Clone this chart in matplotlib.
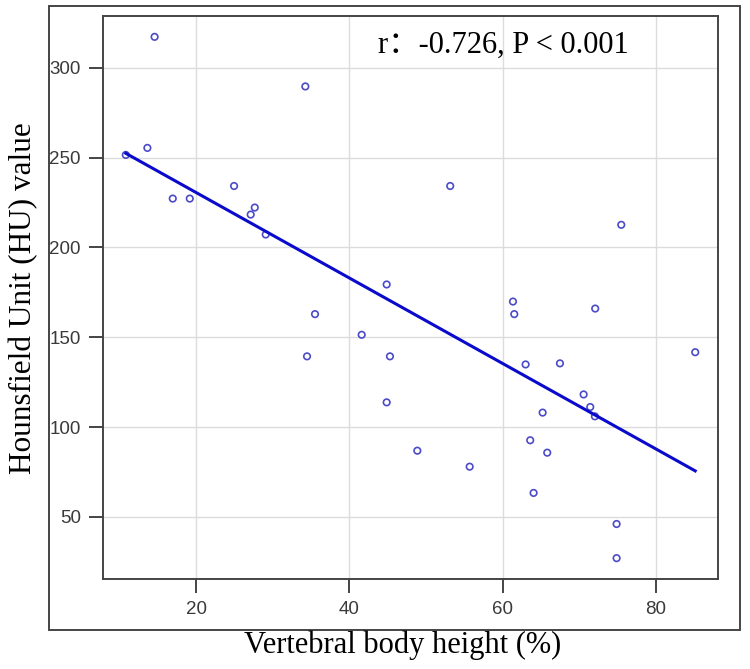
import numpy as np
import matplotlib
matplotlib.use("Agg")
import matplotlib.pyplot as plt
from matplotlib.patches import Rectangle
from matplotlib.transforms import IdentityTransform
from matplotlib import font_manager

# ---- data ----
vbh = [10.83, 13.65, 14.59, 16.96, 19.18, 24.96, 27.13, 27.66, 29.09, 34.26,
       34.48, 35.52, 41.61, 44.87, 45.30, 44.87, 48.87, 53.16, 55.70, 61.35,
       61.52, 63.00, 63.60, 64.04, 65.22, 65.82, 67.48, 70.57, 71.43, 72.04,
       75.48, 72.08, 74.87, 74.87, 85.13]
hu = [251.5, 255.4, 317.2, 227.2, 227.2, 234.2, 218.3, 222.2, 207.2, 289.6,
      139.4, 162.9, 151.4, 179.4, 139.4, 113.8, 86.9, 234.2, 78.0, 169.9,
      162.9, 134.9, 92.7, 63.4, 108.1, 85.8, 135.5, 118.2, 111.2, 106.0,
      212.6, 166.0, 46.1, 27.1, 141.7]
x_ticks = [20, 40, 60, 80]
y_ticks = [50, 100, 150, 200, 250, 300]
annotation = "r\uff1a-0.726, P < 0.001"
x_label = "Vertebral body height (%)"
y_label = "Hounsfield Unit (HU) value"

x = np.array(vbh)
y = np.array(hu)

names = {f.name for f in font_manager.fontManager.ttflist}
tick_family = ["Liberation Sans Narrow"] if "Liberation Sans Narrow" in names else ["Liberation Sans"]
serif = ["Liberation Serif", "Noto Sans CJK SC", "DejaVu Serif"]

W, H = 750, 669
fig = plt.figure(figsize=(W / 100, H / 100), dpi=100)
fig.patch.set_facecolor("white")

ax = fig.add_axes([103 / W, 1 - 579 / H, (718 - 103) / W, (579 - 16) / H])

# R-like limits (4% extension)
xr = x.max() - x.min()
yr = y.max() - y.min()
ax.set_xlim(x.min() - 0.04 * xr, x.max() + 0.04 * xr)
ax.set_ylim(y.min() - 0.04 * yr, y.max() + 0.04 * yr)

ax.set_xticks(x_ticks)
ax.set_yticks(y_ticks)
ax.grid(True, color="#dcdcdc", linewidth=1.0)
ax.set_axisbelow(True)

ax.scatter(x, y, s=22, facecolors="none", edgecolors="#4b4bc8", linewidths=1.2, zorder=3)

slope, intercept = np.polyfit(x, y, 1)
xl = np.array([x.min(), x.max()])
ax.plot(xl, intercept + slope * xl, color="#0a0acc", linewidth=2.2, zorder=4)

for s in ax.spines.values():
    s.set_color("#444444")
    s.set_linewidth(1.4)
ax.tick_params(axis="both", direction="out", length=10, width=1.4, color="#444444",
               labelcolor="#3a3a3a", pad=6, labelsize=13.5)
for lab in ax.get_xticklabels() + ax.get_yticklabels():
    lab.set_family(tick_family)

fig.text(378, H - 45, annotation, transform=IdentityTransform(), fontsize=22,
         family=serif, ha="left", va="center", color="black")

fig.text(403 / W, 1 - 645 / H, x_label, fontsize=22, family=serif, ha="center", va="center")
fig.text(24 / W, 1 - 298 / H, y_label, fontsize=22.5, family=serif, ha="center", va="center",
         rotation=90)

# outer frame
fig.patches.append(Rectangle((49 / W, 1 - 630 / H), (740 - 49) / W, (630 - 6) / H,
                             transform=fig.transFigure, fill=False, edgecolor="#444444",
                             linewidth=1.4))

fig.savefig("out.png", dpi=100, facecolor="white")
